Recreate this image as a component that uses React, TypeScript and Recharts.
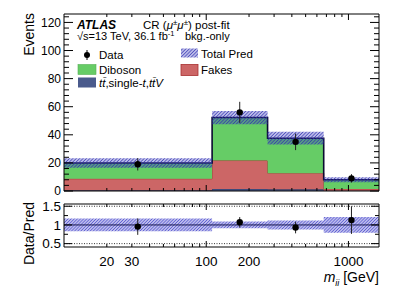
import { ComposedChart, Area, Scatter, ErrorBar, XAxis, YAxis, ReferenceLine } from "recharts";

// m_jj binning (GeV) and per-bin content
const binEdges = [10, 110, 270, 670, 1640];
const binCenters = [33, 172, 425, 1050];
const ttbar = [0.5, 1.5, 1.2, 0.2];
const fakes = [8.2, 20.2, 11.5, 1.3];
const diboson = [11.2, 30.6, 24.9, 6.5];
const predErr = [3.4, 4.7, 4.5, 1.7];
const dataCounts = [19, 56, 35, 9];
const dataErr = [4.4, 7.5, 5.9, 3.0];

const ratio = [0.955, 1.07, 0.93, 1.13];
const ratioErr = [0.22, 0.14, 0.155, 0.37];
const relPredErr = [0.17, 0.09, 0.12, 0.21];

const xTicks = [20, 30, 40, 50, 60, 70, 80, 90, 100, 200, 300, 400, 500, 600, 700, 800, 900, 1000];
const xMajor = [100, 1000];
const xLabels = [20, 30, 100, 200, 1000];
const yTicks = Array.from({ length: 32 }, (_, i) => i * 4);
const ratioTicks = [0.5, 0.75, 1, 1.25, 1.5];
const ratioLabels = [0.5, 1, 1.5];

const FONT = "'Liberation Sans', Arial, Helvetica, sans-serif";

// step rows: one per bin edge, last bin repeated at the upper edge
const stackRows = binEdges.map((x, i) => {
  const j = Math.min(i, binCenters.length - 1);
  const total = ttbar[j] + fakes[j] + diboson[j];
  return {
    x,
    ttbar: ttbar[j],
    fakes: fakes[j],
    diboson: diboson[j],
    band: [total - predErr[j], total + predErr[j]],
    rband: [1 - relPredErr[j], 1 + relPredErr[j]],
  };
});

const dataPoints = binCenters.map((x, i) => ({ x, y: dataCounts[i], err: dataErr[i] }));
const ratioPoints = binCenters.map((x, i) => ({ x, y: ratio[i], err: ratioErr[i] }));

const Dot = (p: any) => <circle cx={p.cx} cy={p.cy} r={3.2} fill="#000" />;

const makeXTick = (side: "bottom" | "top", labels: boolean) => (p: any) => {
  const v = p.payload.value;
  const len = xMajor.includes(v) ? 6 : 3;
  const dir = side === "bottom" ? -1 : 1;
  return (
    <g>
      <line x1={p.x} x2={p.x} y1={p.y} y2={p.y + dir * len} stroke="#000" />
      {labels && xLabels.includes(v) && (
        <text x={p.x} y={p.y + 19} textAnchor="middle" fontSize={13.5} fontFamily={FONT} fill="#000">
          {v}
        </text>
      )}
    </g>
  );
};

const makeYTick = (side: "left" | "right", isMajor: (v: number) => boolean, labels: number[], fs: number, majLen: number, minLen: number) => (p: any) => {
  const v = p.payload.value;
  const len = isMajor(v) ? majLen : minLen;
  const dir = side === "left" ? 1 : -1;
  return (
    <g>
      <line x1={p.x} x2={p.x + dir * len} y1={p.y} y2={p.y} stroke="#000" />
      {side === "left" && labels.includes(v) && (
        <text x={p.x - 3} y={p.y + fs * 0.36} textAnchor="end" fontSize={fs} fontFamily={FONT} fill="#000">
          {v}
        </text>
      )}
    </g>
  );
};

// ROOT-style 3004 hatch: diagonal lines over a faint tint
const Hatch = ({ id, color, tint, gap, w }: { id: string; color: string; tint: string; gap: number; w: number }) => (
  <pattern id={id} patternUnits="userSpaceOnUse" width={gap} height={gap} patternTransform="rotate(45)">
    <rect x={0} y={0} width={gap} height={gap} fill={tint} />
    <line x1={0} y1={0} x2={0} y2={gap} stroke={color} strokeWidth={w} />
  </pattern>
);

const mainMajor = (v: number) => v % 20 === 0;
const ratioMajor = (v: number) => ratioLabels.includes(v);

export default function App() {
  return (
    <div style={{ position: "absolute", left: 0, top: 0, width: 399, height: 286, background: "#fff" }}>
      <div style={{ position: "absolute", left: 0, top: 0 }}>
        <ComposedChart width={399} height={200} data={stackRows} margin={{ top: 0, right: 0, bottom: 0, left: 0 }}>
          <defs>
            <Hatch id="hatchMain" color="#2b2bb0" tint="rgba(60,60,190,0.35)" gap={2.4} w={1.2} />
          </defs>
          <XAxis dataKey="x" type="number" scale="log" domain={[10, 1640]} allowDataOverflow ticks={xTicks} interval={0}
            height={9} tickSize={0} tickMargin={0} tickLine={false} axisLine={{ stroke: "#000" }} tick={makeXTick("bottom", false)} />
          <XAxis xAxisId="top" orientation="top" dataKey="x" type="number" scale="log" domain={[10, 1640]} allowDataOverflow ticks={xTicks} interval={0}
            height={14} tickSize={0} tickMargin={0} tickLine={false} axisLine={{ stroke: "#000" }} tick={makeXTick("top", false)} />
          <YAxis type="number" domain={[0, 126]} allowDataOverflow ticks={yTicks} interval={0} width={64}
            tickSize={0} tickMargin={0} tickLine={false} axisLine={{ stroke: "#000" }} tick={makeYTick("left", mainMajor, yTicks.filter(mainMajor), 12, 9, 5)} />
          <YAxis yAxisId="r" orientation="right" type="number" domain={[0, 126]} allowDataOverflow ticks={yTicks} interval={0} width={20}
            tickSize={0} tickMargin={0} tickLine={false} axisLine={{ stroke: "#000" }} tick={makeYTick("right", mainMajor, [], 12, 9, 5)} />
          <Area type="stepAfter" dataKey="ttbar" stackId="s" fill="#4a5a8c" fillOpacity={1} stroke="#2a3560" strokeWidth={1} isAnimationActive={false} />
          <Area type="stepAfter" dataKey="fakes" stackId="s" fill="#cc6666" fillOpacity={1} stroke="#a83030" strokeWidth={1} isAnimationActive={false} />
          <Area type="stepAfter" dataKey="diboson" stackId="s" fill="#66cc66" fillOpacity={1} stroke="#0a0a30" strokeWidth={1.6} isAnimationActive={false} />
          <Area type="stepAfter" dataKey="band" fill="url(#hatchMain)" fillOpacity={1} stroke="none" isAnimationActive={false} />
          <Scatter data={dataPoints} dataKey="y" shape={Dot} isAnimationActive={false}>
            <ErrorBar dataKey="err" direction="y" width={0} stroke="#222" strokeWidth={1} />
          </Scatter>
        </ComposedChart>
      </div>

      <div style={{ position: "absolute", left: 0, top: 190 }}>
        <ComposedChart width={399} height={96} data={stackRows} margin={{ top: 0, right: 0, bottom: 0, left: 0 }}>
          <defs>
            <Hatch id="hatchRatio" color="#4040c8" tint="rgba(90,90,210,0.4)" gap={2.2} w={1.1} />
          </defs>
          <XAxis dataKey="x" type="number" scale="log" domain={[10, 1640]} allowDataOverflow ticks={xTicks} interval={0}
            height={39} tickSize={0} tickMargin={0} tickLine={false} axisLine={{ stroke: "#000" }} tick={makeXTick("bottom", true)} />
          <XAxis xAxisId="top" orientation="top" dataKey="x" type="number" scale="log" domain={[10, 1640]} allowDataOverflow ticks={xTicks} interval={0}
            height={14} tickSize={0} tickMargin={0} tickLine={false} axisLine={{ stroke: "#000" }} tick={makeXTick("top", false)} />
          <YAxis type="number" domain={[0.41, 1.56]} allowDataOverflow ticks={ratioTicks} interval={0} width={64}
            tickSize={0} tickMargin={0} tickLine={false} axisLine={{ stroke: "#000" }} tick={makeYTick("left", ratioMajor, ratioLabels, 13.5, 8, 4)} />
          <YAxis yAxisId="r" orientation="right" type="number" domain={[0.41, 1.56]} allowDataOverflow ticks={ratioTicks} interval={0} width={20}
            tickSize={0} tickMargin={0} tickLine={false} axisLine={{ stroke: "#000" }} tick={makeYTick("right", ratioMajor, [], 13.5, 8, 4)} />
          <ReferenceLine y={1.5} stroke="#000" strokeDasharray="1 1.5" strokeWidth={0.8} />
          <ReferenceLine y={0.5} stroke="#000" strokeDasharray="1 1.5" strokeWidth={0.8} />
          <Area type="stepAfter" dataKey="rband" fill="url(#hatchRatio)" fillOpacity={1} stroke="none" isAnimationActive={false} />
          <ReferenceLine y={1} stroke="#1a1a50" strokeWidth={1} />
          <Scatter data={ratioPoints} dataKey="y" shape={Dot} isAnimationActive={false}>
            <ErrorBar dataKey="err" direction="y" width={0} stroke="#222" strokeWidth={1} />
          </Scatter>
        </ComposedChart>
      </div>

      <svg width={399} height={286} style={{ position: "absolute", left: 0, top: 0, pointerEvents: "none" }} fontFamily={FONT}>
        <defs>
          <Hatch id="hatchLeg" color="#2b2bb0" tint="rgba(60,60,190,0.35)" gap={2.4} w={1.2} />
        </defs>
        <text transform="translate(34,13) rotate(-90)" textAnchor="end" fontSize={14}>Events</text>
        <text transform="translate(34,202) rotate(-90)" textAnchor="end" fontSize={14}>Data/Pred</text>
        <text x={379} y={282} textAnchor="end" fontSize={14}>
          <tspan fontStyle="italic">m</tspan>
          <tspan fontStyle="italic" fontSize={9} dy={3.5}>jj</tspan>
          <tspan dy={-3.5}> [GeV]</tspan>
        </text>

        <text x={77} y={28.5} fontSize={12} fontWeight="bold" fontStyle="italic">ATLAS</text>
        <text x={143} y={28.5} fontSize={11.5}>
          CR (<tspan fontStyle="italic">μ</tspan><tspan fontSize={8} dy={-4}>±</tspan>
          <tspan fontStyle="italic" dy={4}>μ</tspan><tspan fontSize={8} dy={-4}>±</tspan>
          <tspan dy={4}>) post-fit</tspan>
        </text>
        <text x={77} y={40} fontSize={11}>
          √s=13 TeV, 36.1 fb<tspan fontSize={7.5} dy={-4}>-1</tspan>
        </text>
        <text x={185} y={40} fontSize={11}>bkg.-only</text>

        <line x1={87} x2={87} y1={50} y2={60} stroke="#000" />
        <circle cx={87} cy={55} r={3} fill="#000" />
        <text x={99} y={59} fontSize={11.5}>Data</text>

        <rect x={181} y={48.5} width={17} height={9} fill="url(#hatchLeg)" />
        <text x={201} y={57.5} fontSize={11.5}>Total Pred</text>

        <rect x={78} y={64.5} width={18} height={10} fill="#66cc66" stroke="#55b055" strokeWidth={0.6} />
        <text x={99} y={73.5} fontSize={11.5}>Diboson</text>

        <rect x={181} y={64.5} width={17} height={11} fill="#cc6666" stroke="#a83030" strokeWidth={0.8} />
        <text x={201} y={73.5} fontSize={11.5}>Fakes</text>

        <rect x={78} y={77.5} width={18} height={10} fill="#4a5a8c" />
        <text x={99} y={86.5} fontSize={11.5}>
          <tspan fontStyle="italic">t{"t\u0304"}</tspan>,single-<tspan fontStyle="italic">t</tspan>,<tspan fontStyle="italic">{"tt\u0304V"}</tspan>
        </text>
      </svg>
    </div>
  );
}
